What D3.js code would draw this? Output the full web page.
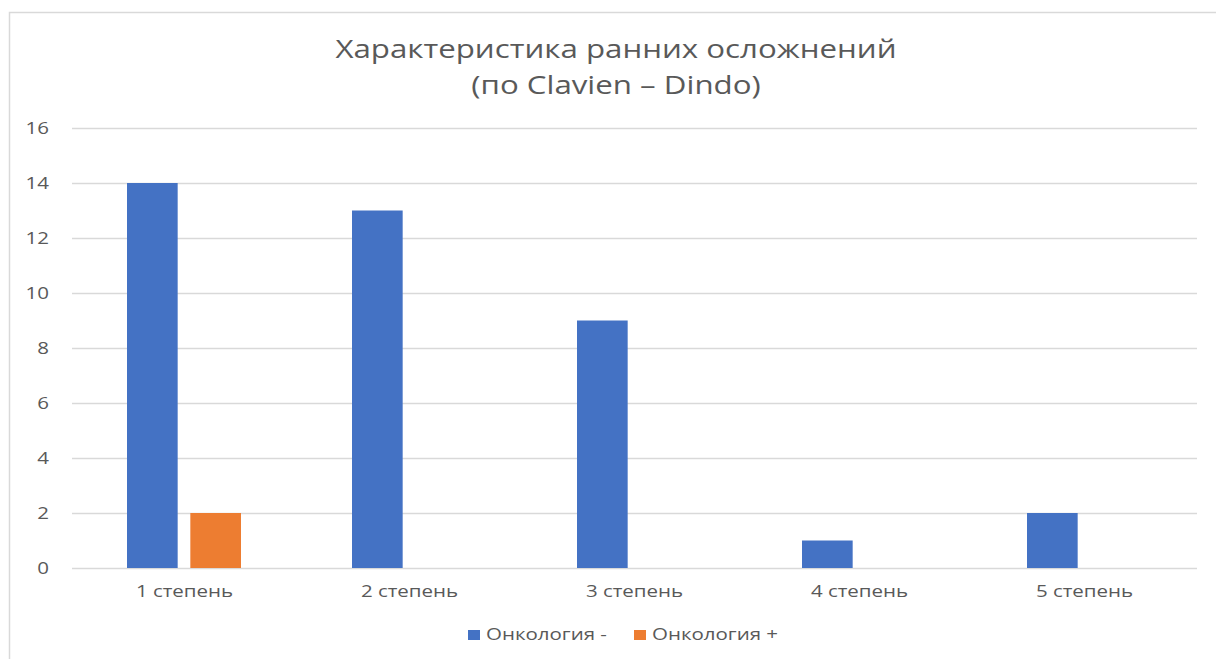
<!DOCTYPE html>
<html>
<head>
<meta charset="utf-8">
<script src="https://cdn.jsdelivr.net/npm/d3@7"></script>
<style>
  html, body { margin: 0; padding: 0; background: #fff; }
  svg { display: block; font-family: "Open Sans", "Liberation Sans", sans-serif; }
</style>
</head>
<body>
<svg id="chart" width="1216" height="659"></svg>
<script>
// Chart data
const categories = ["1 степень", "2 степень", "3 степень", "4 степень", "5 степень"];
const seriesNames = ["Онкология -", "Онкология +"];
const oncoNegative = [14, 13, 9, 1, 2];
const oncoPositive = [2, 0, 0, 0, 0];
const yTicks = [0, 2, 4, 6, 8, 10, 12, 14, 16];
const titleLines = ["Характеристика ранних осложнений", "(по Clavien – Dindo)"];

const seriesValues = [oncoNegative, oncoPositive];
const colors = ["#4472C4", "#ED7D31"];
const textColor = "#595959";
const gridColor = "#d9d9d9";
const fontStack = "\"Open Sans\", \"Liberation Sans\", sans-serif";
const stretch = 1.28; // horizontal widening of all text glyphs

const svg = d3.select("#chart");

// Widen a text selection horizontally by the shared stretch factor
function widen(sel, factor) {
  sel.each(function () {
    const w = this.getComputedTextLength();
    d3.select(this)
      .attr("textLength", w * factor)
      .attr("lengthAdjust", "spacingAndGlyphs");
  });
}

// Chart frame
svg.append("path")
  .attr("d", "M9.5,659 L9.5,12.5 L1216,12.5")
  .attr("fill", "none")
  .attr("stroke", gridColor)
  .attr("stroke-width", 1.5);

const plot = { left: 72, right: 1197, top: 128, bottom: 568 };

const y = d3.scaleLinear().domain([0, 16]).range([plot.bottom, plot.top]);
const x0 = d3.scaleBand().domain(categories).range([plot.left, plot.right]).padding(0);
const x1 = d3.scaleBand().domain(seriesNames).range([55, 169]).paddingInner(0.2).paddingOuter(0);

// Horizontal gridlines and y labels
const yAxis = d3.axisLeft(y).tickValues(yTicks).tickSize(-(plot.right - plot.left));
const yG = svg.append("g").attr("transform", `translate(${plot.left},0)`).call(yAxis);
yG.attr("font-family", fontStack).attr("font-size", 16);
yG.select(".domain").remove();
yG.selectAll(".tick line").attr("stroke", gridColor).attr("stroke-width", 1.3);
yG.selectAll(".tick text")
  .attr("fill", textColor)
  .attr("text-anchor", "end")
  .attr("x", -23)
  .attr("dy", "0.36em");

// Bars
const groups = svg.append("g").selectAll("g")
  .data(categories)
  .join("g")
  .attr("transform", d => `translate(${x0(d)},0)`);

groups.selectAll("rect")
  .data((c, i) => seriesNames.map((s, j) => ({ s, v: seriesValues[j][i], j })))
  .join("rect")
  .filter(d => d.v > 0)
  .attr("x", d => x1(d.s))
  .attr("width", x1.bandwidth())
  .attr("y", d => y(d.v))
  .attr("height", d => y(0) - y(d.v))
  .attr("fill", d => colors[d.j]);

// Category labels
const xAxis = d3.axisBottom(x0).tickSize(0).tickPadding(18);
const xG = svg.append("g").attr("transform", `translate(0,${plot.bottom})`).call(xAxis);
xG.attr("font-family", fontStack).attr("font-size", 16);
xG.select(".domain").remove();
xG.selectAll(".tick text").attr("fill", textColor);

// Title
titleLines.forEach((t, i) => {
  svg.append("text")
    .attr("class", "title")
    .attr("text-anchor", "middle")
    .attr("fill", textColor)
    .attr("font-size", 25)
    .attr("x", 616)
    .attr("y", 58 + i * 36)
    .text(t);
});

// Legend
const legendItems = [
  { name: seriesNames[0], color: colors[0], x: 468 },
  { name: seriesNames[1], color: colors[1], x: 634 }
];
const legend = svg.append("g");
legendItems.forEach(item => {
  legend.append("rect")
    .attr("x", item.x).attr("y", 630).attr("width", 12).attr("height", 10)
    .attr("fill", item.color);
  legend.append("text")
    .attr("x", item.x + 18).attr("y", 640)
    .attr("fill", textColor)
    .attr("font-size", 16)
    .text(item.name);
});

widen(svg.selectAll("text:not(.title)"), stretch);
widen(svg.selectAll("text.title"), 1.25);
</script>
</body>
</html>
